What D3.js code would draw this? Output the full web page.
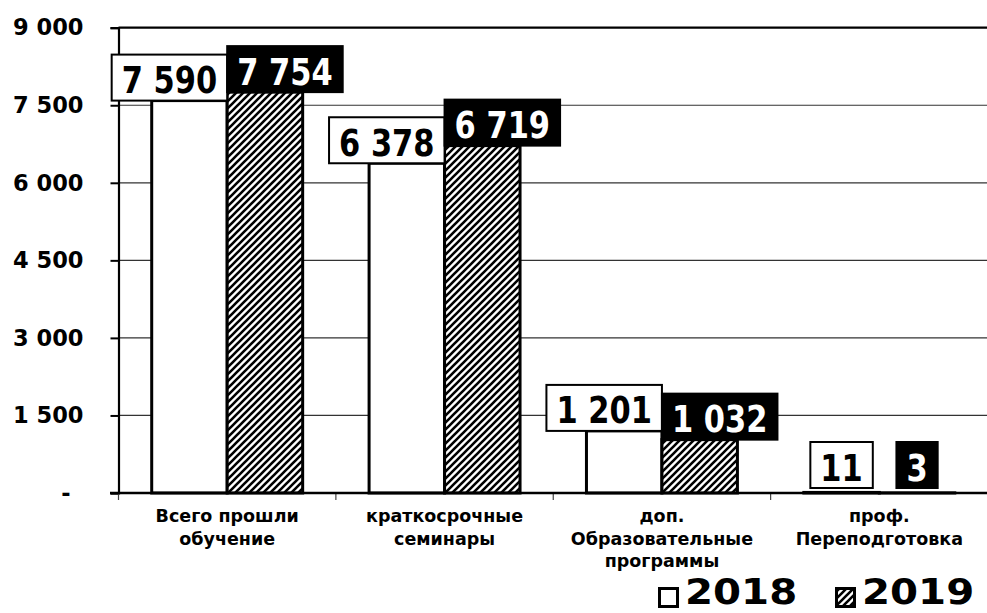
<!DOCTYPE html>
<html><head><meta charset="utf-8">
<script src="https://cdn.jsdelivr.net/npm/d3@7"></script>
<style>html,body{margin:0;padding:0;background:#fff;}svg{display:block;}</style>
</head><body>
<script>
const categories = ["Всего прошли обучение","краткосрочные семинары","доп. Образовательные программы","проф. Переподготовка"];
const categoryLines = [["Всего прошли","обучение"],["краткосрочные","семинары"],["доп.","Образовательные","программы"],["проф.","Переподготовка"]];
const seriesNames = ["2018","2019"];
const values2018 = [7590, 6378, 1201, 11];
const values2019 = [7754, 6719, 1032, 3];
const tickValues = [0, 1500, 3000, 4500, 6000, 7500, 9000];
const tickLabels = ["-", "1 500", "3 000", "4 500", "6 000", "7 500", "9 000"];

const W = 987, H = 613;
const svg = d3.select("body").append("svg").attr("width", W).attr("height", H);
svg.append("rect").attr("width", W).attr("height", H).attr("fill", "#fff");

const defs = svg.append("defs");
const pat = defs.append("pattern").attr("id","hatch").attr("patternUnits","userSpaceOnUse")
  .attr("width",7).attr("height",7);
pat.append("rect").attr("width",7).attr("height",7).attr("fill","#fff");
pat.append("path").attr("d","M-1,8 L8,-1 M-2,2 L2,-2 M5,9 L9,5").attr("stroke","#000").attr("stroke-width",2.6);

const x = d3.scaleBand().domain(d3.range(categories.length)).range([118.5, 988]).padding(0);
const xs = d3.scaleBand().domain(seriesNames).range([0, x.bandwidth()]).paddingInner(0).paddingOuter(0.44);
const y = d3.scaleLinear().domain([0, 9000]).range([493, 27.7]);
const fmt = d3.formatLocale({decimal:",", thousands:" ", grouping:[3], currency:["",""]}).format(",d");

// gridlines
svg.append("g").selectAll("line").data(tickValues.filter(d => d > 0)).join("line")
  .attr("x1", 118.5).attr("x2", W).attr("y1", d => y(d)).attr("y2", d => y(d))
  .attr("stroke", d => d === 9000 ? "#000" : "#333").attr("stroke-width", d => d === 9000 ? 2.2 : 1.2);

// y axis
const yAxis = svg.append("g").attr("transform", "translate(118.5,0)")
  .call(d3.axisLeft(y).tickValues(tickValues).tickFormat((d, i) => tickLabels[i]).tickSize(8).tickPadding(27));
yAxis.select(".domain").attr("stroke", "#000").attr("stroke-width", 2.2);
yAxis.selectAll(".tick line").attr("stroke", "#000").attr("stroke-width", 2);
yAxis.selectAll(".tick text").attr("font-family", "DejaVu Sans").attr("font-weight", "bold")
  .attr("font-size", 22.5).attr("fill", "#000").attr("dx", d => d === 0 ? -13 : 0);

// category ticks
svg.append("g").selectAll("line").data(d3.range(categories.length + 1)).join("line")
  .attr("x1", i => i < categories.length ? x(i) : x(i - 1) + x.bandwidth())
  .attr("x2", i => i < categories.length ? x(i) : x(i - 1) + x.bandwidth())
  .attr("y1", 493).attr("y2", 500).attr("stroke", "#444").attr("stroke-width", 1.2);

// bars
const data = [];
categories.forEach((c, i) => {
  data.push({i, s: "2018", v: values2018[i]});
  data.push({i, s: "2019", v: values2019[i]});
});
svg.append("g").selectAll("rect").data(data).join("rect")
  .attr("x", d => x(d.i) + xs(d.s)).attr("width", xs.bandwidth())
  .attr("y", d => y(d.v)).attr("height", d => y(0) - y(d.v))
  .attr("fill", d => d.s === "2018" ? "#fff" : "url(#hatch)")
  .attr("stroke", "#000").attr("stroke-width", 3);

// x baseline
svg.append("line").attr("x1", 110).attr("x2", W).attr("y1", y(0)).attr("y2", y(0))
  .attr("stroke", "#000").attr("stroke-width", 2.4);

// data labels: centred on bars, pushed apart when a pair overlaps
const lg = svg.append("g");
categories.forEach((c, i) => {
  const pair = data.filter(d => d.i === i).map(d => {
    const g = lg.append("g");
    const rect = g.append("rect");
    const t = g.append("text").text(fmt(d.v))
      .attr("font-family", "DejaVu Sans").attr("font-weight", "bold")
      .attr("font-size", 30.5).attr("text-anchor", "middle")
      .attr("fill", d.s === "2018" ? "#000" : "#fff");
    const bw = t.node().getComputedTextLength() + 20;
    const cx = x(d.i) + xs(d.s) + xs.bandwidth() / 2;
    return {d, rect, t, bw, cx};
  });
  const overlap = (pair[0].cx + pair[0].bw / 2) - (pair[1].cx - pair[1].bw / 2);
  if (overlap > 0) { pair[0].cx -= overlap / 2; pair[1].cx += overlap / 2; }
  pair.forEach(p => {
    const bh = 46;
    const bottom = Math.min(y(p.d.v), y(0) - 5);
    p.rect.attr("x", p.cx - p.bw / 2).attr("y", bottom - bh).attr("width", p.bw).attr("height", bh)
      .attr("fill", p.d.s === "2018" ? "#fff" : "#000").attr("stroke", "#000").attr("stroke-width", 2);
    p.t.attr("transform", `translate(${p.cx},${bottom - 7.5}) scale(1,1.22)`);
  });
});

// category labels
const cl = svg.append("g");
categoryLines.forEach((lines, i) => {
  const t = cl.append("text").attr("text-anchor", "middle")
    .attr("font-family", "DejaVu Sans").attr("font-weight", "bold").attr("font-size", 17.5).attr("fill", "#000");
  lines.forEach((ln, k) => {
    t.append("tspan").attr("x", x(i) + x.bandwidth() / 2).attr("y", 522 + k * 22.5).text(ln);
  });
});

// legend
const leg = svg.append("g");
const legX = [658, 835];
seriesNames.forEach((s, k) => {
  leg.append("rect").attr("x", legX[k] + 1.5).attr("y", 588.5).attr("width", 18).attr("height", 18)
    .attr("fill", k === 0 ? "#fff" : "url(#hatch)").attr("stroke", "#000").attr("stroke-width", 3);
  leg.append("text").attr("transform", `translate(${legX[k] + 27},604) scale(1.12,1)`).text(s)
    .attr("font-family", "DejaVu Sans").attr("font-weight", "bold").attr("font-size", 36).attr("fill", "#000");
});
</script>
</body></html>
